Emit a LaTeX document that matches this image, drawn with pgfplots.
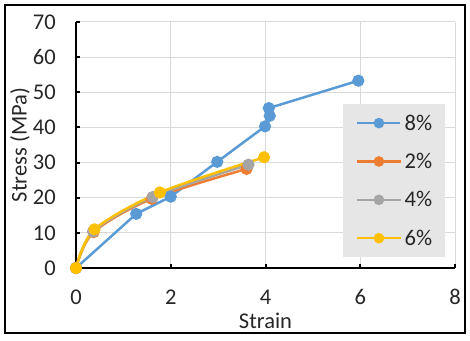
\documentclass[border=0pt]{standalone}
\usepackage{pgfplots}
\pgfplotsset{compat=1.18}
\usepackage{fontspec}
\setmainfont{Carlito}
\definecolor{c8}{HTML}{5B9BD5}
\definecolor{c2}{HTML}{ED7D31}
\definecolor{c4}{HTML}{A5A5A5}
\definecolor{c6}{HTML}{FFC000}
\definecolor{gridc}{HTML}{D9D9D9}
\definecolor{legbg}{HTML}{E6E6E6}
\begin{document}
\begin{tikzpicture}
\path[use as bounding box] (0pt,0pt) rectangle (470pt,340pt);
\draw[line width=1.8pt] (5pt,7pt) rectangle (465pt,335pt);
\begin{axis}[
  at={(76pt,72pt)}, anchor=south west,
  scale only axis, width=379pt, height=246pt,
  xmin=0, xmax=8, ymin=0, ymax=70,
  xtick={0,2,4,6,8}, ytick={0,10,...,70},
  axis x line=bottom, axis y line=left,
  axis line style={-, line width=2.5pt, black},
  tick align=inside, major tick length=4pt,
  tick style={line width=2pt, black},
  grid=major, major grid style={gridc, line width=1pt},
  /pgf/number format/assume math mode=true,
  ticklabel style={font=\fontsize{22.5}{26}\selectfont, text=black!85},
  yticklabel style={anchor=east, inner sep=0pt, xshift=-20pt},
  xticklabel style={anchor=base, inner sep=0pt, yshift=-36pt},
  label style={font=\fontsize{22.5}{26}\selectfont, text=black!85},
  xlabel={Strain}, ylabel={Stress (MPa)},
  xlabel style={at={(axis description cs:0.5,-0.244)}, anchor=base},
  ylabel style={at={(axis description cs:-0.148,0.5)}, anchor=center, rotate=0},
  legend style={at={(0.7045,0.6667)}, anchor=north west, fill=legbg, draw=none,
    font=\fontsize{22.5}{26}\selectfont, text=black!85,
    nodes={inner sep=0pt}, row sep=21.5pt, inner xsep=13pt, inner ysep=10.5pt,
    column sep=3pt},
  legend cell align=left,
  legend image code/.code={\draw[mark repeat=2,mark phase=2,#1,mark size=4pt] plot coordinates {(0pt,0pt) (21.5pt,0pt) (43pt,0pt)};},
  every axis plot/.append style={line width=2.5pt, mark=*, mark size=4.8pt},
]
\addplot[c8, mark options={fill=c8, draw=c8}] coordinates {
 (0,0) (1.27,15.4) (2.0,20.3) (2.98,30.2) (3.99,40.3) (4.09,43.3) (4.07,45.5) (5.96,53.3)};
\addlegendentry{8\%}
\addplot[c2, smooth, mark options={fill=c2, draw=c2}] coordinates {
 (0,0) (0.37,10.2) (1.6,19.7) (3.6,28.2)};
\addlegendentry{2\%}
\addplot[c4, smooth, mark options={fill=c4, draw=c4}] coordinates {
 (0,0) (0.36,10.4) (1.62,20.2) (3.64,29.4)};
\addlegendentry{4\%}
\addplot[c6, smooth, mark options={fill=c6, draw=c6}] coordinates {
 (0,0) (0.39,11.0) (1.77,21.5) (3.97,31.5)};
\addlegendentry{6\%}
\end{axis}
\end{tikzpicture}
\end{document}
